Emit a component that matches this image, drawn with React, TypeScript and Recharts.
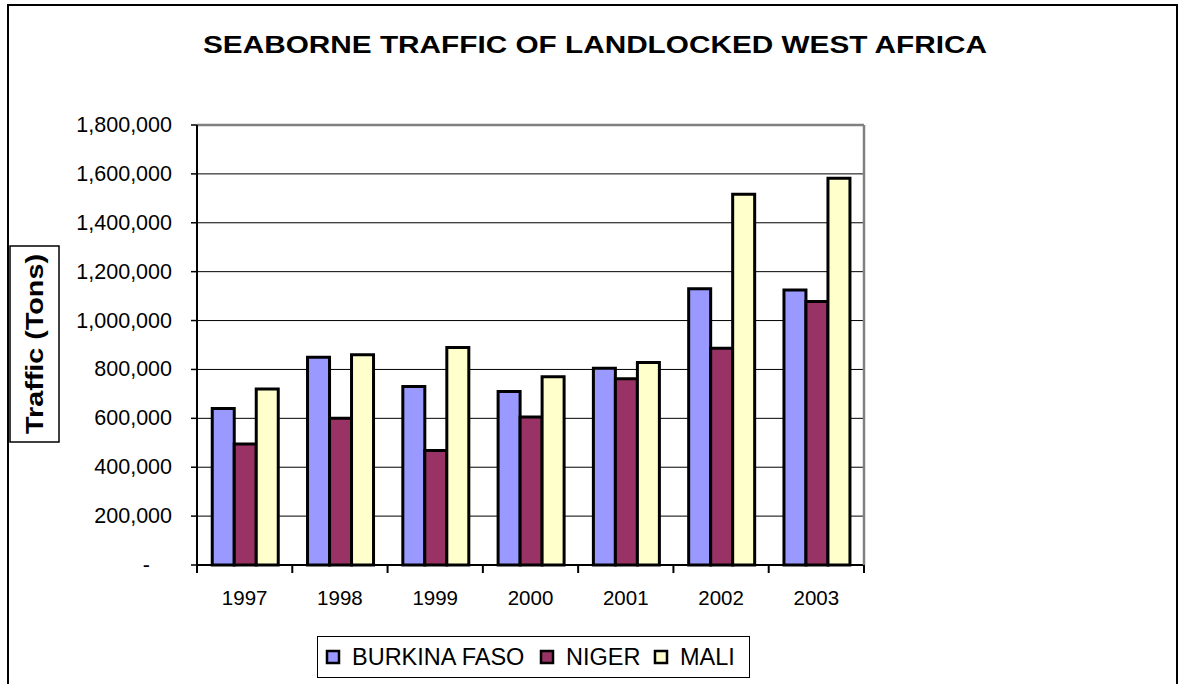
import React from 'react';
import { BarChart, Bar, XAxis, YAxis, CartesianGrid } from 'recharts';

const chartTitle = 'SEABORNE TRAFFIC OF LANDLOCKED WEST AFRICA';
const yAxisTitle = 'Traffic (Tons)';
const years = ['1997', '1998', '1999', '2000', '2001', '2002', '2003'];
const seriesNames = ['BURKINA FASO', 'NIGER', 'MALI'];
const seriesColors = ['#9999FF', '#993366', '#FFFFCC'];
const burkinaFaso = [640000, 850000, 730000, 710000, 805000, 1130000, 1125000];
const niger = [495000, 600000, 468000, 605000, 762000, 887000, 1078000];
const mali = [720000, 860000, 890000, 770000, 828000, 1517000, 1582000];
const yTicks = [0, 200000, 400000, 600000, 800000, 1000000, 1200000, 1400000, 1600000, 1800000];

const data = years.map((year, i) => ({
  year,
  bf: burkinaFaso[i],
  ni: niger[i],
  ml: mali[i],
}));
const seriesKeys = ['bf', 'ni', 'ml'];

const FONT = '"Liberation Sans", Arial, sans-serif';

const YTick = (props: any) => {
  const { x, y, payload } = props;
  const v = payload.value;
  const label = v === 0 ? '-' : v.toLocaleString('en-US');
  return (
    <text
      x={v === 0 ? x - 22 : x}
      y={y}
      dy={7}
      textAnchor="end"
      fontFamily={FONT}
      fontSize={21.5}
      fill="#000"
    >
      {label}
    </text>
  );
};

const XTick = (props: any) => {
  const { x, y, payload, index } = props;
  const half = payload && typeof payload.offset === 'number' ? payload.offset : 0;
  const isLast = index === years.length - 1;
  return (
    <g>
      {half > 0 && (
        <line x1={x - half} x2={x - half} y1={y} y2={y + 8} stroke="#000" strokeWidth={2} />
      )}
      {half > 0 && isLast && (
        <line x1={x + half} x2={x + half} y1={y} y2={y + 8} stroke="#000" strokeWidth={2} />
      )}
      <text x={x} y={y} dy={40} textAnchor="middle" fontFamily={FONT} fontSize={20.5} fill="#000">
        {payload.value}
      </text>
    </g>
  );
};

const legendX = [326, 540, 654];
const legendTextX = [352, 566, 680];

export default function App() {
  return (
    <div style={{ position: 'absolute', left: 0, top: 0, width: 1178, height: 684, background: '#fff' }}>
      <BarChart
        width={1178}
        height={684}
        data={data}
        margin={{ top: 124, right: 313, bottom: 118, left: 0 }}
        barCategoryGap="16%"
        barGap={0}
      >
        <rect x={8} y={5} width={1169} height={760} fill="none" stroke="#000" strokeWidth={2} />
        <text
          x={595}
          y={53}
          textAnchor="middle"
          fontFamily={FONT}
          fontWeight="bold"
          fontSize={24}
          textLength={784}
          lengthAdjust="spacingAndGlyphs"
          fill="#000"
        >
          {chartTitle}
        </text>
        <g>
          <rect x={10} y={246} width={49} height={196} fill="#fff" stroke="#000" strokeWidth={1.5} />
          <text
            x={0}
            y={0}
            transform="translate(43,344) rotate(-90)"
            textAnchor="middle"
            fontFamily={FONT}
            fontWeight="bold"
            fontSize={24}
            textLength={180}
            lengthAdjust="spacingAndGlyphs"
            fill="#000"
          >
            {yAxisTitle}
          </text>
        </g>
        <CartesianGrid vertical={false} horizontal stroke="#000" strokeWidth={1} strokeOpacity={1} />
        <XAxis
          dataKey="year"
          height={1}
          axisLine={{ stroke: '#000', strokeWidth: 2 }}
          tickLine={false}
          tickSize={0}
          tickMargin={0}
          tick={<XTick />}
          interval={0}
        />
        <XAxis
          xAxisId="top"
          orientation="top"
          dataKey="year"
          height={1}
          tick={false}
          tickLine={false}
          axisLine={{ stroke: '#808080', strokeWidth: 2.5 }}
        />
        <YAxis
          width={197}
          domain={[0, 1800000]}
          ticks={yTicks}
          interval={0}
          axisLine={{ stroke: '#000', strokeWidth: 2 }}
          tickLine={{ stroke: '#000', strokeWidth: 1.5 }}
          tickSize={6}
          tickMargin={19}
          tick={<YTick />}
        />
        <YAxis
          yAxisId="right"
          orientation="right"
          width={1}
          domain={[0, 1800000]}
          tick={false}
          tickLine={false}
          axisLine={{ stroke: '#808080', strokeWidth: 2.5 }}
        />
        {seriesKeys.map((k, i) => (
          <Bar
            key={k}
            dataKey={k}
            name={seriesNames[i]}
            fill={seriesColors[i]}
            stroke="#000"
            strokeWidth={3}
            isAnimationActive={false}
          />
        ))}
        <g>
          <rect x={317.5} y={636.5} width={432} height={41} fill="#fff" stroke="#000" strokeWidth={1} />
          {seriesNames.map((name, i) => (
            <g key={name}>
              <rect x={legendX[i] + 1} y={651} width={12} height={12} fill={seriesColors[i]} stroke="#000" strokeWidth={2.5} />
              <text x={legendTextX[i]} y={665} fontFamily={FONT} fontSize={23.5} fill="#000">
                {name}
              </text>
            </g>
          ))}
        </g>
      </BarChart>
    </div>
  );
}
